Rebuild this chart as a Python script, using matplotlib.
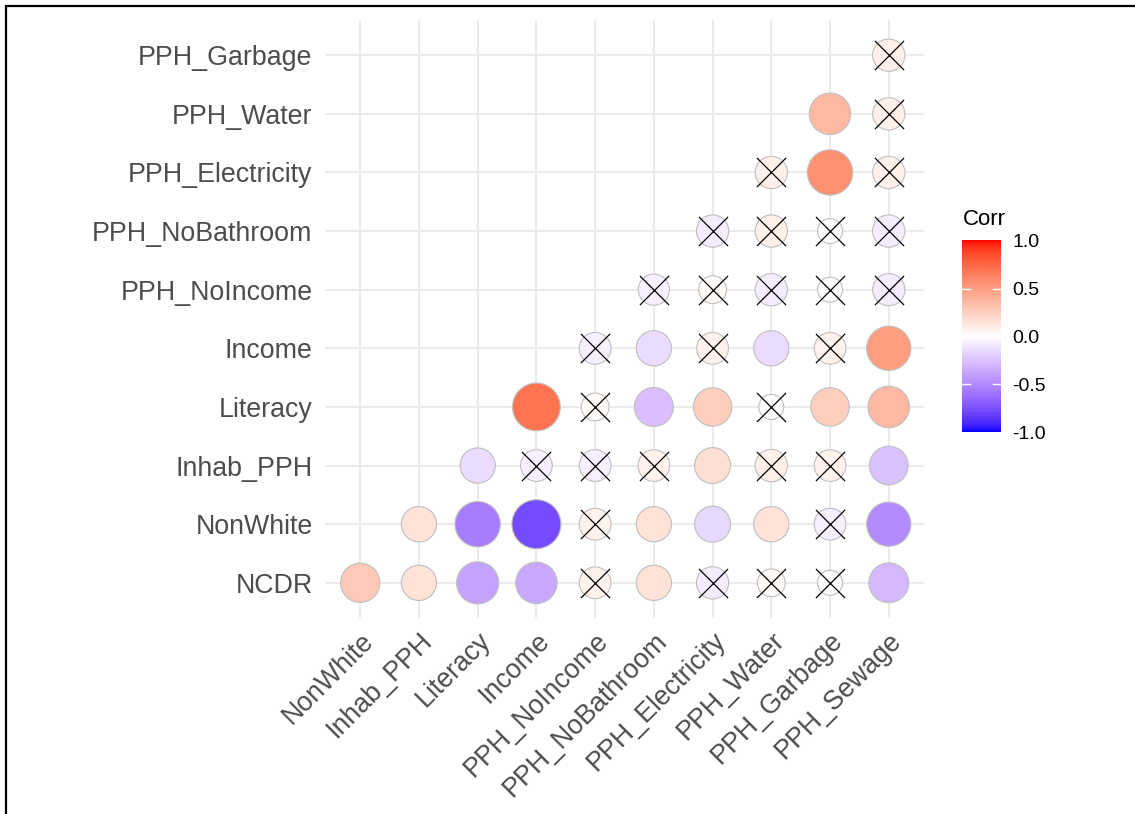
import numpy as np
import matplotlib
matplotlib.use("Agg")
import matplotlib.pyplot as plt
from matplotlib.colors import ListedColormap, Normalize
from matplotlib.patches import Rectangle

plt.rcParams['font.family'] = ['Liberation Sans', 'DejaVu Sans']

## Variables (lower triangle: rows = all but last, columns = all but first)
variables = ["NCDR", "NonWhite", "Inhab_PPH", "Literacy", "Income", "PPH_NoIncome",
             "PPH_NoBathroom", "PPH_Electricity", "PPH_Water", "PPH_Garbage", "PPH_Sewage"]
row_vars = variables[:-1]
col_vars = variables[1:]

## Correlations of each row variable with the columns to its right
r_ncdr      = [0.28, 0.15, -0.40, -0.37, 0.07, 0.15, -0.08, 0.02, -0.01, -0.30]
r_nonwhite  = [0.15, -0.56, -0.78, 0.07, 0.15, -0.17, 0.15, -0.07, -0.50]
r_inhab     = [-0.15, -0.07, -0.07, 0.07, 0.17, 0.08, 0.07, -0.26]
r_literacy  = [0.70, 0.02, -0.27, 0.25, 0.01, 0.25, 0.37]
r_income    = [-0.07, -0.15, 0.07, -0.15, 0.07, 0.50]
r_noincome  = [-0.06, 0.02, -0.08, 0.01, -0.08]
r_nobath    = [-0.08, 0.08, 0.01, -0.08]
r_elec      = [0.08, 0.56, 0.08]
r_water     = [0.37, 0.08]
r_garbage   = [0.08]

## 1 = not significant (crossed out)
ns_ncdr     = [0, 0, 0, 0, 1, 0, 1, 1, 1, 0]
ns_nonwhite = [0, 0, 0, 1, 0, 0, 0, 1, 0]
ns_inhab    = [0, 1, 1, 1, 0, 1, 1, 0]
ns_literacy = [0, 1, 0, 0, 1, 0, 0]
ns_income   = [1, 0, 1, 0, 1, 0]
ns_noincome = [1, 1, 1, 1, 1]
ns_nobath   = [1, 1, 1, 1]
ns_elec     = [1, 0, 1]
ns_water    = [0, 1]
ns_garbage  = [1]

corr_rows = [r_ncdr, r_nonwhite, r_inhab, r_literacy, r_income,
             r_noincome, r_nobath, r_elec, r_water, r_garbage]
ns_rows = [ns_ncdr, ns_nonwhite, ns_inhab, ns_literacy, ns_income,
           ns_noincome, ns_nobath, ns_elec, ns_water, ns_garbage]

xs, ys, vals, ns = [], [], [], []
for i, (rr, nn) in enumerate(zip(corr_rows, ns_rows)):
    for k, (v, n) in enumerate(zip(rr, nn)):
        xs.append(i + k)
        ys.append(i)
        vals.append(v)
        ns.append(n)
xs, ys, vals, ns = map(np.array, (xs, ys, vals, ns))


## blue - white - red gradient interpolated in Lab space
def srgb2lab(c):
    c = np.asarray(c, float)
    lin = np.where(c <= 0.04045, c / 12.92, ((c + 0.055) / 1.055) ** 2.4)
    M = np.array([[0.4124, 0.3576, 0.1805],
                  [0.2126, 0.7152, 0.0722],
                  [0.0193, 0.1192, 0.9505]])
    xyz = M @ lin / np.array([0.95047, 1.0, 1.08883])
    f = np.where(xyz > 0.008856, np.cbrt(xyz), 7.787 * xyz + 16 / 116)
    return np.array([116 * f[1] - 16, 500 * (f[0] - f[1]), 200 * (f[1] - f[2])])


def lab2srgb(lab):
    L, a, b = lab
    fy = (L + 16) / 116
    fx = fy + a / 500
    fz = fy - b / 200
    f = np.array([fx, fy, fz])
    xyz = np.where(f ** 3 > 0.008856, f ** 3, (f - 16 / 116) / 7.787)
    xyz = xyz * np.array([0.95047, 1.0, 1.08883])
    Minv = np.array([[3.2406, -1.5372, -0.4986],
                     [-0.9689, 1.8758, 0.0415],
                     [0.0557, -0.2040, 1.0570]])
    lin = np.clip(Minv @ xyz, 0, 1)
    c = np.where(lin <= 0.0031308, 12.92 * lin, 1.055 * lin ** (1 / 2.4) - 0.055)
    return np.clip(c, 0, 1)


lab_low, lab_mid, lab_high = srgb2lab([0, 0, 1]), srgb2lab([1, 1, 1]), srgb2lab([1, 0, 0])
cols = []
for t in np.linspace(-1, 1, 512):
    if t < 0:
        lab = lab_mid + (-t) * (lab_low - lab_mid)
    else:
        lab = lab_mid + t * (lab_high - lab_mid)
    cols.append(lab2srgb(lab))
cmap = ListedColormap(cols)
norm = Normalize(-1, 1)

## point size: area scale on |r|, range ~25..49 px diameter
absr = np.abs(vals)
tt = (absr - absr.min()) / (absr.max() - absr.min())
diam_px = 25 + 24 * np.sqrt(tt)
sizes = (diam_px * 0.72) ** 2

W, H = 1135, 814
fig = plt.figure(figsize=(W / 100, H / 100), dpi=100)
ax = fig.add_axes([325 / W, 1 - 618 / H, 599 / W, 598 / H])

ax.scatter(xs, ys, s=sizes, c=vals, cmap=cmap, norm=norm,
           edgecolors='#BEBEBE', linewidths=0.8, zorder=3)
ax.scatter(xs[ns == 1], ys[ns == 1], s=440, marker='x', color='black',
           linewidths=0.9, zorder=4)

ax.set_xlim(-0.6, 9.6)
ax.set_ylim(-0.6, 9.6)
ax.set_xticks(range(len(col_vars)))
ax.set_yticks(range(len(row_vars)))
ax.set_xticklabels(col_vars, rotation=45, ha='right', va='top',
                   rotation_mode='anchor', fontsize=19.3, color='#4D4D4D')
ax.set_yticklabels(row_vars, fontsize=19.3, color='#4D4D4D')
ax.tick_params(length=0)
ax.tick_params(axis='y', pad=9)
ax.tick_params(axis='x', pad=7)
ax.grid(color='#EBEBEB', linewidth=1.4, zorder=0)
ax.set_axisbelow(True)
for sp in ax.spines.values():
    sp.set_visible(False)

## colour bar legend
cax = fig.add_axes([962 / W, 1 - 434 / H, 39 / W, 195 / H])
grad = np.linspace(-1, 1, 300).reshape(-1, 1)
cax.imshow(grad, cmap=cmap, norm=norm, aspect='auto', origin='lower',
           extent=(0, 1, -1, 1))
for b in [-0.5, 0.0, 0.5]:
    cax.plot([0, 0.2], [b, b], color='white', lw=1)
    cax.plot([0.8, 1], [b, b], color='white', lw=1)
cax.set_xlim(0, 1)
cax.set_ylim(-1.02, 1.02)
cax.set_xticks([])
cax.yaxis.tick_right()
cax.set_yticks([-1, -0.5, 0, 0.5, 1])
cax.set_yticklabels(["-1.0", "-0.5", "0.0", "0.5", "1.0"], fontsize=14)
cax.tick_params(axis='y', length=0, pad=8)
for sp in cax.spines.values():
    sp.set_visible(False)
fig.text(963 / W, 1 - 225 / H, "Corr", fontsize=16, ha='left', va='baseline')

## frame around the figure (top and left edges)
fig.patches.append(Rectangle((6 / W, -1), 2, 1 + 1 - 6 / H, fill=False,
                             edgecolor='black', linewidth=1.6,
                             transform=fig.transFigure))

fig.savefig("out.png", dpi=100)
